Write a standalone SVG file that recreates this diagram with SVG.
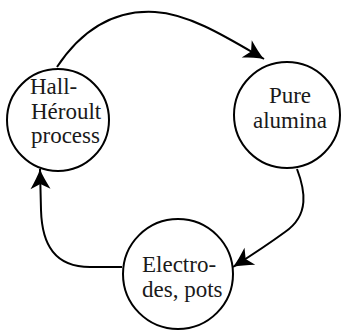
<svg xmlns="http://www.w3.org/2000/svg" width="343" height="330" viewBox="0 0 343 330">
  <defs>
    <style>
      .node { fill: #ffffff; stroke: #000000; stroke-width: 2; }
      .lbl { font-family: "Liberation Serif", "Times New Roman", serif; font-size: 23px; fill: #1a1a1a; }
      .edge { fill: none; stroke: #000000; stroke-width: 2; }
    </style>
    <marker id="arr" markerUnits="userSpaceOnUse" viewBox="-22 -12 24 24" refX="0" refY="0" markerWidth="24" markerHeight="24" orient="auto">
      <path d="M0,0 C-6,-2 -13,-6 -20,-10 L-15,0 L-20,10 C-13,6 -6,2 0,0 Z" fill="#000000"/>
    </marker>
  </defs>
  <rect width="343" height="330" fill="#ffffff"/>
  <g id="connectors">
    <path class="edge" d="M57,67 C85,25 120,10 155,12 C190,14 228,38 264,59" marker-end="url(#arr)"/>
    <path class="edge" d="M297,169 C305,190 310,215 285,232 C270,243 255,253 233,267" marker-end="url(#arr)"/>
    <path class="edge" d="M122,267 L90,267 C55,267 42,245 41,210 L40,169" marker-end="url(#arr)"/>
  </g>
  <g id="node-hall">
    <circle class="node" cx="58" cy="120" r="51"/>
    <text class="lbl" x="30" y="94">Hall-</text>
    <text class="lbl" x="31" y="119">Héroult</text>
    <text class="lbl" x="31" y="143">process</text>
  </g>
  <g id="node-alumina">
    <circle class="node" cx="287" cy="115" r="53"/>
    <text class="lbl" x="290" y="103" text-anchor="middle">Pure</text>
    <text class="lbl" x="290" y="128" text-anchor="middle">alumina</text>
  </g>
  <g id="node-electrodes">
    <circle class="node" cx="178" cy="274" r="55"/>
    <text class="lbl" x="142" y="272">Electro-</text>
    <text class="lbl" x="142" y="297">des, pots</text>
  </g>
</svg>
